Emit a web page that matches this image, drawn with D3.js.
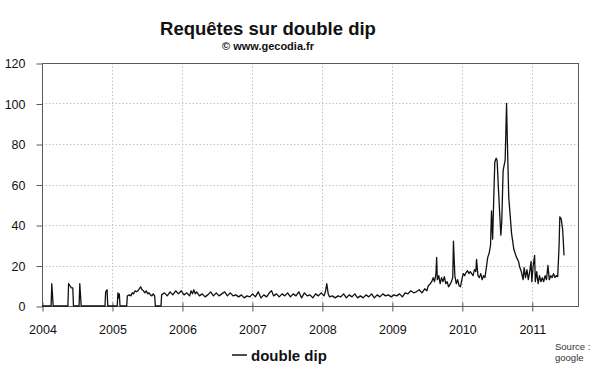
<!DOCTYPE html>
<html>
<head>
<meta charset="utf-8">
<script src="https://cdn.jsdelivr.net/npm/d3@7"></script>
<style>
  body { margin: 0; background: #fff; }
  svg { display: block; font-family: "Liberation Sans", Arial, sans-serif; }
</style>
</head>
<body>
<script>
'use strict';

// weekly-ish google trend points (decimal years)
const dates = [
  2004.00, 2004.13, 2004.14, 2004.16,
  2004.37, 2004.38, 2004.40, 2004.42, 2004.44, 2004.45,
  2004.53, 2004.54, 2004.56,
  2004.90, 2004.91, 2004.93, 2004.94,
  2005.075, 2005.085, 2005.095, 2005.105, 2005.115,
  2005.21, 2005.22, 2005.25, 2005.27, 2005.29, 2005.31, 2005.33, 2005.35, 2005.37, 2005.39,
  2005.41, 2005.43, 2005.45, 2005.47, 2005.49, 2005.51, 2005.53, 2005.55, 2005.57, 2005.59,
  2005.61, 2005.62, 2005.70,
  2005.71, 2005.75, 2005.79, 2005.83, 2005.87, 2005.91, 2005.95, 2005.99,
  2006.03, 2006.07, 2006.11, 2006.13, 2006.15, 2006.17, 2006.19, 2006.21, 2006.25, 2006.29,
  2006.33, 2006.37, 2006.41, 2006.45, 2006.49, 2006.53, 2006.57, 2006.61, 2006.65, 2006.69,
  2006.73, 2006.77, 2006.81, 2006.85, 2006.89, 2006.93, 2006.97,
  2007.01, 2007.05, 2007.09, 2007.13, 2007.17, 2007.21, 2007.25, 2007.28, 2007.31, 2007.35,
  2007.39, 2007.43, 2007.47, 2007.51, 2007.55, 2007.59, 2007.63, 2007.67, 2007.71, 2007.75,
  2007.79, 2007.83, 2007.87, 2007.91, 2007.95, 2007.99,
  2008.03, 2008.05, 2008.07, 2008.09, 2008.11, 2008.15, 2008.19, 2008.23, 2008.27, 2008.31,
  2008.35, 2008.39, 2008.43, 2008.47, 2008.51, 2008.55, 2008.59, 2008.63, 2008.67, 2008.71,
  2008.75, 2008.79, 2008.83, 2008.87, 2008.91, 2008.95, 2008.99,
  2009.03, 2009.07, 2009.11, 2009.15, 2009.19, 2009.23, 2009.27, 2009.31, 2009.35, 2009.39,
  2009.43, 2009.47, 2009.50, 2009.52, 2009.55, 2009.57, 2009.59, 2009.61, 2009.63, 2009.64,
  2009.65, 2009.67, 2009.69, 2009.71, 2009.73, 2009.75, 2009.77, 2009.79, 2009.81, 2009.83,
  2009.85, 2009.87, 2009.88, 2009.90, 2009.92, 2009.94, 2009.96, 2009.98,
  2010.00, 2010.02, 2010.04, 2010.06, 2010.08, 2010.10, 2010.12, 2010.14, 2010.16, 2010.18,
  2010.20, 2010.21, 2010.23, 2010.25, 2010.27, 2010.29, 2010.31, 2010.33, 2010.35, 2010.37,
  2010.39, 2010.41, 2010.424, 2010.44, 2010.455, 2010.471, 2010.49, 2010.504, 2010.52, 2010.533,
  2010.557, 2010.57, 2010.59, 2010.619, 2010.639, 2010.65, 2010.67, 2010.71, 2010.743, 2010.781,
  2010.81, 2010.829, 2010.85, 2010.876,
  2010.89, 2010.91, 2010.93, 2010.95, 2010.97, 2010.99, 2011.00, 2011.02, 2011.04, 2011.05,
  2011.07, 2011.09, 2011.11, 2011.13, 2011.15, 2011.17, 2011.19, 2011.21, 2011.23, 2011.25,
  2011.27, 2011.29, 2011.31, 2011.33, 2011.35, 2011.37, 2011.39, 2011.40, 2011.42, 2011.44,
  2011.45, 2011.46
];

const requests = [
  0, 0, 11, 0,
  0, 11, 10, 9, 9, 0,
  0, 11, 0,
  0, 7, 8, 0,
  0, 6.5, 4, 6, 0,
  0, 5, 5.5, 5, 6.5, 6, 7.5, 7, 7.5, 8.5,
  9.5, 8, 7.5, 6.5, 7.5, 6, 6.5, 5.5, 5, 6,
  5, 0, 0,
  5.5, 6.5, 5, 7, 5.5, 7.5, 6, 7.5,
  5.5, 6.5, 5, 7.5, 6, 8, 6, 7, 5, 6,
  4.5, 5.5, 7, 5, 6.5, 5, 6, 7, 5, 6.5,
  5, 5.5, 4.5, 5.5, 4, 5, 4.5,
  6, 4.5, 7, 4, 5.5, 4.5, 6.5, 7.5, 5, 6,
  4.5, 6, 5, 6.5, 4.5, 6, 5, 7, 4, 6.5,
  5, 5.5, 4, 6, 5, 6.5,
  5, 7, 11, 6, 4.5, 5, 4, 5, 4.5, 6,
  4, 5.5, 4.5, 6, 4, 5, 4, 5.5, 4.5, 6,
  4, 5.5, 4.5, 6, 5, 5.5, 4.5,
  5.5, 5, 6, 4.5, 6.5, 6, 7.5, 6.5, 7, 8,
  6.5, 8.5, 7.5, 10, 11, 12, 14, 12, 16, 24,
  13, 15, 11, 14, 12, 14.5, 11, 12, 9.5, 10.5,
  12, 14, 32, 15, 11, 13, 10, 9.5,
  13, 16, 15, 16.5, 17.5, 16, 17, 16, 15, 18,
  17, 23, 15, 14, 16, 13, 15, 14, 19, 24,
  26, 30, 47, 33, 52, 71, 73, 72, 60, 51,
  35, 41, 67, 72, 100, 82, 54, 36, 28, 24,
  22, 19, 17, 13,
  19, 14, 18, 13, 17, 22, 12, 20, 25, 12,
  17, 11, 15, 12, 14, 12, 15, 13, 20, 13,
  15, 14, 16, 14, 15, 14.5, 30, 44, 43, 38,
  32, 25
];

const yearTicks = [2004, 2005, 2006, 2007, 2008, 2009, 2010, 2011];
const valueTicks = [0, 20, 40, 60, 80, 100, 120];

const chartTitle = 'Requêtes sur double dip';
const chartSubtitle = '© www.gecodia.fr';
const seriesName = 'double dip';
const sourceLines = ['Source :', 'google'];

let svg = d3.select('body')
  .append('svg')
  .attr('width', 600)
  .attr('height', 372);

// plot box
let xRange = {min: 42, max: 578};
let yRange = {min: 63, max: 306};

let xScale = d3.scaleLinear()
  .domain([2004, 2011.66])
  .range([xRange.min, xRange.max]);

let yScale = d3.scaleLinear()
  .domain([0, 120])
  .range([yRange.max, yRange.min]);

// dotted grid
svg.append('g')
  .selectAll('line')
  .data(valueTicks.filter(v => v > 0 && v < 120))
  .enter()
  .append('line')
    .attr('x1', xRange.min)
    .attr('x2', xRange.max)
    .attr('y1', d => Math.round(yScale(d)) + 0.5)
    .attr('y2', d => Math.round(yScale(d)) + 0.5)
    .attr('stroke', '#c4c4c4')
    .attr('stroke-dasharray', '1.5,2');

svg.append('g')
  .selectAll('line')
  .data(yearTicks.filter(y => y > 2004))
  .enter()
  .append('line')
    .attr('x1', d => Math.round(xScale(d)) + 0.5)
    .attr('x2', d => Math.round(xScale(d)) + 0.5)
    .attr('y1', yRange.min)
    .attr('y2', yRange.max)
    .attr('stroke', '#c4c4c4')
    .attr('stroke-dasharray', '1.5,2');

// frame
svg.append('rect')
  .attr('x', xRange.min + 0.5)
  .attr('y', yRange.min + 0.5)
  .attr('width', xRange.max - xRange.min)
  .attr('height', yRange.max - yRange.min)
  .attr('fill', 'none')
  .attr('stroke', '#5a5a5a');

// axes
let xAxis = d3.axisBottom(xScale)
  .tickValues(yearTicks)
  .tickFormat(d3.format('d'))
  .tickSize(5)
  .tickPadding(14);

let gx = svg.append('g')
  .attr('transform', 'translate(0.5,' + (yRange.max + 0.5) + ')')
  .call(xAxis);
gx.select('.domain').remove();
gx.selectAll('.tick line').attr('y1', -4).attr('stroke', '#5a5a5a');
gx.selectAll('.tick text').style('font-size', '12.5px').attr('fill', '#111');

let yAxis = d3.axisLeft(yScale)
  .tickValues(valueTicks)
  .tickSize(6)
  .tickPadding(11);

let gy = svg.append('g')
  .attr('transform', 'translate(' + (xRange.min + 0.5) + ',0.5)')
  .call(yAxis);
gy.select('.domain').remove();
gy.selectAll('.tick line').attr('stroke', '#5a5a5a');
gy.selectAll('.tick text').style('font-size', '12.5px').attr('fill', '#111');

// the series
let points = dates.map((t, i) => ({t: t, v: requests[i]}));
let line = d3.line()
  .x(d => xScale(d.t))
  .y(d => yScale(d.v));

svg.append('path')
  .datum(points)
  .attr('fill', 'none')
  .attr('stroke', '#111')
  .attr('stroke-width', 1.3)
  .attr('stroke-linejoin', 'round')
  .attr('d', line);

// titles
svg.append('text')
  .attr('x', 268)
  .attr('y', 35)
  .attr('text-anchor', 'middle')
  .style('font-size', '18.5px')
  .style('font-weight', 'bold')
  .attr('fill', '#111')
  .text(chartTitle);

svg.append('text')
  .attr('x', 268)
  .attr('y', 50)
  .attr('text-anchor', 'middle')
  .style('font-size', '11px')
  .style('font-weight', 'bold')
  .attr('fill', '#111')
  .text(chartSubtitle);

// legend
svg.append('line')
  .attr('x1', 232)
  .attr('x2', 247)
  .attr('y1', 355)
  .attr('y2', 355)
  .attr('stroke', '#111')
  .attr('stroke-width', 1.5);

svg.append('text')
  .attr('x', 251)
  .attr('y', 361)
  .style('font-size', '15px')
  .style('font-weight', 'bold')
  .attr('fill', '#111')
  .text(seriesName);

// source note
svg.append('g')
  .selectAll('text')
  .data(sourceLines)
  .enter()
  .append('text')
    .attr('x', 555)
    .attr('y', (d, i) => 350 + i * 11)
    .style('font-size', '9.5px')
    .attr('fill', '#333')
    .text(d => d);
</script>
</body>
</html>
